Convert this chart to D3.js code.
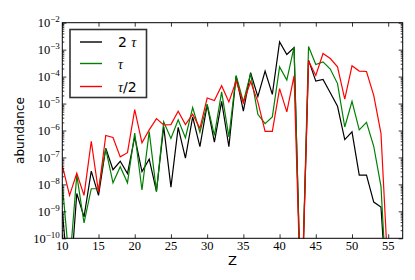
<!DOCTYPE html>
<html>
<head>
<meta charset="utf-8">
<script src="https://cdn.jsdelivr.net/npm/d3@7"></script>
<style>
  body { margin: 0; background: #fff; }
  svg { display: block; }
  .tick line { stroke: #000; }
</style>
</head>
<body>
<div id="chart"></div>
<script>
// values, one entry per Z = 10..55
const zValues = d3.range(10, 56);

const abund2tau = [
  1.0e-9, 1e-12, 4.6e-9, 6.2e-10, 3.1e-8, 3.9e-9, 2.2e-7, 3.5e-8, 7.2e-8, 2.5e-8,
  5.8e-7, 3.0e-8, 8.7e-8, 5.5e-9, 1.4e-6, 7.9e-9, 1.3e-6, 9.5e-8, 3.2e-6, 2.5e-7,
  8.9e-6, 3.7e-7, 1.2e-5, 2.5e-7, 1.05e-4, 5.2e-6, 1.4e-4, 1.8e-5, 1.6e-4, 2.2e-5,
  1.95e-3, 6.6e-4, 1.2e-3, 1e-13, 4.1e-4, 6.8e-5, 7.8e-5, 2.5e-5, 7.9e-6, 4.6e-7,
  8.9e-7, 2.2e-8, 2.2e-8, 2.2e-9, 1.45e-9, 1e-13
];

const abundTau = [
  1.0e-8, 1e-11, 2.2e-8, 3.7e-10, 6.9e-9, 6.9e-9, 2.1e-7, 1.15e-8, 4.5e-8, 1.15e-8,
  8.1e-7, 6.2e-9, 9.1e-7, 5.4e-9, 2.1e-6, 5.1e-7, 2.5e-6, 5.4e-7, 7.1e-6, 8.7e-7,
  9.5e-6, 6.6e-7, 2.7e-5, 5.8e-7, 1.1e-4, 1.15e-5, 1.3e-4, 4.0e-6, 1.8e-6, 3.2e-6,
  2.3e-4, 7.4e-5, 1.26e-3, 1e-13, 1.3e-3, 2.8e-4, 3.5e-4, 1.9e-4, 5.5e-5, 1.35e-6,
  1.2e-5, 1.05e-6, 2.0e-6, 2.6e-7, 8.5e-9, 1e-13
];

const abundHalfTau = [
  5.1e-8, 3.9e-9, 2.6e-8, 3.9e-9, 4.0e-7, 5.2e-9, 6.5e-7, 5.5e-7, 1.05e-7, 1.5e-7,
  6.0e-6, 3.5e-7, 1.05e-6, 2.75e-6, 1.6e-6, 1.65e-6, 5.2e-6, 1.65e-6, 4.0e-6, 1.2e-6,
  1.6e-5, 1.3e-5, 4.6e-5, 1.15e-5, 6.8e-5, 1.07e-5, 6.5e-5, 1.15e-5, 9.3e-7, 9.3e-7,
  3.6e-5, 4.9e-6, 1.07e-4, 1e-13, 3.8e-4, 1.1e-4, 7.2e-4, 4.7e-4, 2.3e-4, 1.45e-5,
  2.5e-4, 1.6e-4, 1.55e-4, 2.0e-5, 7.8e-7, 4e-12
];

const xTicks = [10, 15, 20, 25, 30, 35, 40, 45, 50, 55];
const yExponents = [-10, -9, -8, -7, -6, -5, -4, -3, -2];

const series = [
  { name: '2', tau: 'τ', suffix: '', color: '#000000', values: abund2tau },
  { name: '', tau: 'τ', suffix: '', color: '#008000', values: abundTau },
  { name: '', tau: 'τ', suffix: '/2', color: '#ff0000', values: abundHalfTau },
];

const W = 415, H = 280;
const m = { t: 22.7, r: 12.3, b: 41.7, l: 62.3 };
const w = W - m.l - m.r;
const h = H - m.t - m.b;

const svg = d3.select('#chart').append('svg')
  .attr('width', W).attr('height', H)
  .attr('viewBox', `0 0 ${W} ${H}`);

svg.append('rect').attr('width', W).attr('height', H).attr('fill', '#fff');

const g = svg.append('g').attr('transform', `translate(${m.l},${m.t})`);

const x = d3.scaleLinear().domain([10, 57]).range([0, w]);
const y = d3.scaleLog().domain([1e-10, 1e-2]).range([h, 0]);

svg.append('clipPath').attr('id', 'plot-clip')
  .append('rect').attr('width', w).attr('height', h);

// ---- lines
const line = d3.line().x((d, i) => x(zValues[i])).y(d => y(d));
const lines = g.append('g').attr('clip-path', 'url(#plot-clip)');
series.forEach(s => {
  lines.append('path').datum(s.values)
    .attr('fill', 'none').attr('stroke', s.color)
    .attr('stroke-width', 1.2).attr('stroke-linejoin', 'miter')
    .attr('d', line);
});

// ---- ticks (inward, all four sides)
const majorY = yExponents.map(e => Math.pow(10, e));
const minorY = y.ticks().filter(v => {
  const e = Math.log10(v);
  return Math.abs(e - Math.round(e)) > 1e-6;
});

const tickStyle = sel => sel.call(s => s.select('.domain').remove())
  .call(s => s.selectAll('text').remove())
  .selectAll('line').attr('stroke', '#000').attr('stroke-width', 0.8);

g.append('g').attr('transform', `translate(0,${h})`)
  .call(d3.axisBottom(x).tickValues(xTicks).tickSize(-4)).call(tickStyle);
g.append('g')
  .call(d3.axisTop(x).tickValues(xTicks).tickSize(-4)).call(tickStyle);
g.append('g')
  .call(d3.axisLeft(y).tickValues(majorY).tickSize(-4)).call(tickStyle);
g.append('g')
  .call(d3.axisLeft(y).tickValues(minorY).tickSize(-2)).call(tickStyle);
g.append('g').attr('transform', `translate(${w},0)`)
  .call(d3.axisRight(y).tickValues(majorY).tickSize(-4)).call(tickStyle);
g.append('g').attr('transform', `translate(${w},0)`)
  .call(d3.axisRight(y).tickValues(minorY).tickSize(-2)).call(tickStyle);

// ---- frame
g.append('rect').attr('width', w).attr('height', h)
  .attr('fill', 'none').attr('stroke', '#000').attr('stroke-width', 1);

// ---- tick labels
const serif = '"Liberation Serif", "DejaVu Serif", serif';
g.append('g').selectAll('text').data(xTicks).join('text')
  .attr('x', d => x(d)).attr('y', h + 12)
  .attr('text-anchor', 'middle')
  .attr('font-family', serif).attr('font-size', 12.5)
  .text(d => d);

const yl = g.append('g').selectAll('text').data(yExponents).join('text')
  .attr('x', -2.5).attr('y', d => y(Math.pow(10, d)) + 4.5)
  .attr('text-anchor', 'end')
  .attr('font-family', serif).attr('font-size', 12.5);
yl.append('tspan').text('10');
yl.append('tspan').attr('dy', -5).attr('font-size', 9).text(d => '−' + Math.abs(d));

// ---- axis titles
const sans = '"DejaVu Sans", sans-serif';
svg.append('text')
  .attr('transform', `translate(24,${m.t + h / 2}) rotate(-90)`)
  .attr('text-anchor', 'middle')
  .attr('font-family', sans).attr('font-size', 12)
  .text('abundance');
svg.append('text')
  .attr('x', m.l + w / 2).attr('y', 265)
  .attr('text-anchor', 'middle')
  .attr('font-family', sans).attr('font-size', 13)
  .text('Z');

// ---- legend
const leg = svg.append('g').attr('transform', 'translate(70,29.5)');
leg.append('rect').attr('width', 76.5).attr('height', 68)
  .attr('fill', '#fff').attr('stroke', '#333').attr('stroke-width', 1.6);
const rowY = [12.5, 34, 57];
series.forEach((s, i) => {
  const r = leg.append('g').attr('transform', `translate(0,${rowY[i]})`);
  r.append('line').attr('x1', 10).attr('x2', 32).attr('y1', 0).attr('y2', 0)
    .attr('stroke', s.color).attr('stroke-width', 1.4);
  const t = r.append('text').attr('x', 48).attr('y', 5)
    .attr('font-family', sans).attr('font-size', 14);
  if (s.name) t.append('tspan').text(s.name + ' ');
  t.append('tspan').attr('font-family', serif).attr('font-style', 'italic').text(s.tau);
  if (s.suffix) t.append('tspan').text(s.suffix);
});
</script>
</body>
</html>
